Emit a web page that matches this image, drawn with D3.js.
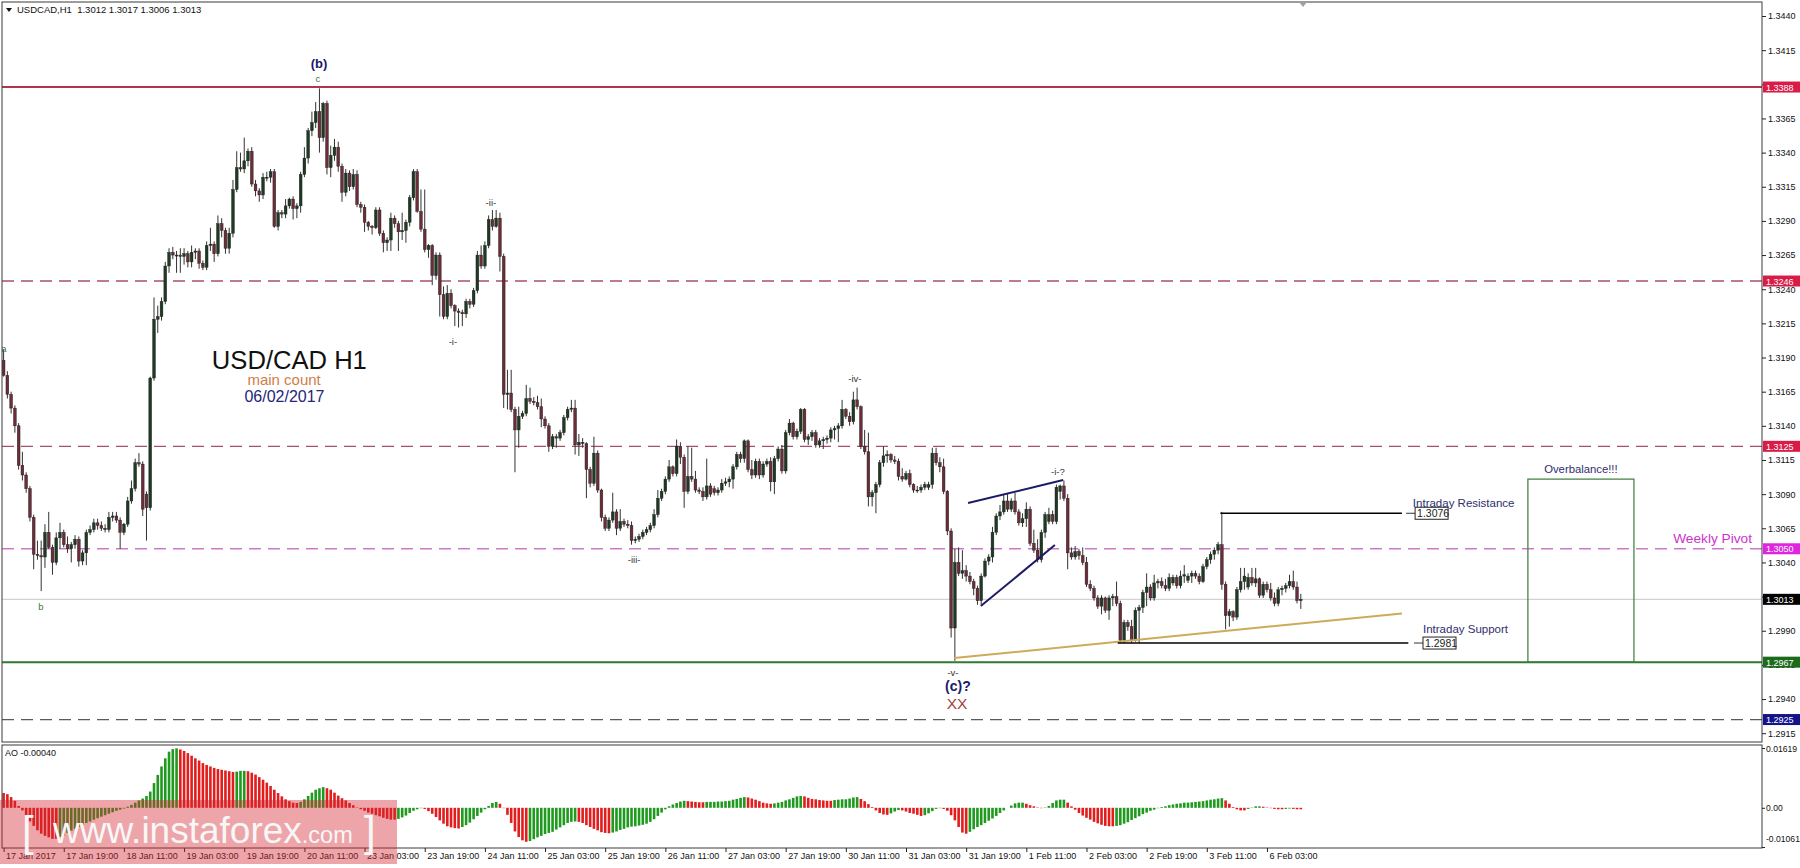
<!DOCTYPE html>
<html>
<head>
<meta charset="utf-8">
<script src="https://cdn.jsdelivr.net/npm/d3@7"></script>
<style>
body { margin: 0; background: #fff; }
svg { display: block; font-family: "Liberation Sans", Arial, sans-serif; }
</style>
</head>
<body>
<div id="chart"></div>
<script>
// ---------- DATA (prices in pips, 13188 = 1.3188) ----------
const opens = [
13188,13177,13163,13153,13140,13111,13104,13094,13073,13046,
13045,13044,13062,13051,13040,13058,13062,13053,13050,13053,
13057,13041,13047,13062,13064,13069,13067,13065,13064,13073,
13074,13071,13062,13068,13085,13094,13113,13112,13090,13080,
13175,13218,13220,13231,13257,13267,13265,13265,13264,13266,
13260,13267,13268,13259,13256,13272,13273,13266,13288,13283,
13270,13281,13313,13329,13328,13334,13341,13317,13312,13309,
13322,13322,13326,13286,13296,13295,13301,13306,13299,13301,
13324,13336,13356,13362,13370,13351,13376,13329,13338,13344,
13330,13311,13325,13315,13324,13302,13300,13289,13286,13285,
13298,13281,13274,13276,13292,13288,13282,13283,13289,13307,
13326,13297,13284,13269,13272,13250,13265,13236,13220,13237,
13228,13224,13223,13222,13231,13229,13239,13265,13257,13272,
13291,13286,13292,13264,13163,13164,13152,13137,13147,13149,
13160,13158,13157,13154,13145,13140,13125,13132,13131,13135,
13146,13152,13153,13126,13128,13127,13108,13098,13120,13093,
13073,13065,13071,13077,13065,13070,13068,13067,13056,13057,
13059,13062,13064,13067,13075,13087,13092,13101,13110,13105,
13125,13117,13092,13103,13101,13093,13092,13088,13096,13094,
13091,13093,13098,13099,13101,13110,13119,13116,13129,13108,
13104,13114,13104,13112,13114,13099,13116,13123,13107,13135,
13142,13132,13136,13152,13130,13132,13135,13126,13129,13130,
13131,13137,13138,13140,13152,13147,13143,13159,13154,13125,
13121,13088,13091,13097,13113,13118,13119,13115,13114,13103,
13101,13105,13097,13093,13093,13095,13095,13097,13120,13113,
13110,13092,13063,12992,13040,13032,13034,13030,13026,13021,
13012,13030,13041,13044,13062,13074,13077,13085,13079,13085,
13077,13069,13072,13079,13054,13049,13042,13062,13070,13075,
13070,13092,13096,13087,13047,13044,13048,13045,13040,13024,
13021,13014,13008,13014,13005,13014,13015,13010,12983,12996,
12993,12983,13005,13007,13018,13022,13014,13025,13026,13023,
13021,13025,13029,13023,13030,13027,13030,13032,13030,13026,
13037,13042,13046,13049,13053,13024,13001,13004,13000,13020,
13026,13022,13029,13025,13028,13016,13024,13020,13014,13010,
13020,13021,13023,13026,13022,13012
];
const highs = [
13196,13180,13165,13155,13142,13121,13106,13096,13075,13056,
13056,13068,13077,13053,13062,13069,13064,13059,13055,13060,
13059,13049,13064,13067,13072,13072,13070,13068,13077,13077,
13077,13073,13069,13088,13100,13116,13120,13114,13092,13176,
13234,13228,13234,13260,13270,13271,13268,13270,13270,13268,
13272,13270,13270,13261,13275,13285,13275,13294,13292,13285,
13285,13320,13341,13340,13351,13343,13344,13320,13314,13325,
13326,13328,13328,13298,13298,13306,13307,13308,13303,13326,
13344,13358,13370,13377,13387,13377,13378,13345,13350,13348,
13332,13328,13327,13328,13327,13304,13302,13290,13287,13300,
13300,13283,13278,13296,13294,13290,13296,13291,13309,13328,
13328,13313,13313,13273,13273,13267,13267,13242,13243,13240,
13229,13226,13225,13233,13233,13241,13268,13272,13275,13294,
13298,13298,13296,13266,13181,13181,13154,13154,13151,13170,
13168,13161,13162,13160,13147,13142,13134,13134,13137,13148,
13154,13159,13159,13134,13131,13128,13110,13132,13122,13094,
13075,13073,13091,13079,13079,13072,13071,13070,13059,13061,
13064,13066,13069,13079,13093,13094,13103,13115,13111,13130,
13128,13119,13125,13124,13107,13095,13095,13116,13098,13096,
13095,13101,13102,13103,13112,13121,13121,13130,13130,13115,
13116,13116,13114,13116,13117,13118,13125,13126,13137,13145,
13143,13138,13153,13153,13134,13137,13137,13131,13132,13133,
13139,13140,13142,13159,13153,13150,13165,13168,13155,13137,
13135,13093,13099,13115,13125,13122,13120,13118,13116,13109,
13107,13108,13098,13096,13097,13099,13099,13124,13124,13117,
13116,13093,13065,13050,13051,13049,13038,13033,13028,13023,
13032,13043,13046,13066,13076,13082,13090,13090,13087,13091,
13079,13076,13084,13081,13064,13057,13064,13077,13080,13078,
13097,13097,13100,13090,13051,13052,13050,13051,13044,13027,
13023,13016,13016,13015,13016,13017,13026,13012,12998,12998,
12998,13007,13009,13020,13032,13024,13031,13028,13029,13028,
13032,13031,13031,13034,13038,13032,13034,13034,13032,13039,
13044,13048,13051,13055,13077,13026,13006,13005,13022,13036,
13036,13032,13036,13036,13029,13026,13026,13025,13018,13022,
13023,13025,13031,13034,13026,13017
];
const lows = [
13176,13160,13149,13135,13108,13100,13091,13070,13035,13042,
13019,13036,13050,13031,13038,13050,13051,13047,13040,13050,
13037,13038,13038,13060,13062,13064,13063,13062,13062,13070,
13069,13050,13060,13066,13083,13092,13110,13074,13056,13078,
13173,13208,13217,13229,13252,13262,13252,13252,13258,13256,
13256,13262,13255,13254,13254,13268,13260,13264,13278,13266,
13266,13278,13311,13326,13325,13330,13315,13308,13304,13306,
13319,13318,13285,13283,13292,13292,13299,13291,13292,13296,
13322,13332,13352,13358,13340,13348,13324,13322,13334,13326,
13304,13308,13312,13313,13300,13296,13282,13283,13280,13284,
13279,13267,13268,13268,13285,13268,13276,13274,13286,13305,
13296,13282,13267,13263,13243,13247,13220,13218,13218,13226,
13213,13212,13213,13219,13226,13227,13237,13255,13255,13270,
13283,13285,13253,13153,13152,13150,13106,13124,13145,13147,
13156,13155,13152,13139,13138,13121,13123,13124,13129,13133,
13144,13150,13119,13118,13124,13087,13095,13096,13091,13070,
13063,13063,13069,13060,13063,13066,13065,13053,13054,13055,
13057,13060,13062,13065,13073,13085,13090,13099,13103,13103,
13112,13080,13090,13099,13091,13090,13085,13086,13088,13089,
13089,13091,13096,13095,13094,13108,13113,13113,13106,13101,
13102,13101,13102,13110,13092,13090,13114,13105,13105,13133,
13130,13130,13134,13128,13126,13129,13124,13124,13123,13127,
13128,13130,13128,13138,13145,13140,13141,13152,13123,13119,
13081,13081,13076,13095,13110,13113,13113,13112,13100,13099,
13100,13095,13091,13091,13091,13093,13093,13094,13111,13106,
13090,13060,12985,12968,13030,13028,13026,13024,13016,13009,
13009,13029,13038,13040,13060,13071,13075,13077,13077,13075,
13067,13066,13066,13052,13047,13040,13040,13058,13068,13068,
13068,13086,13085,13035,13042,13042,13042,13038,13022,13019,
13012,13006,13002,13003,12998,13008,13008,12981,12981,12990,
12981,12982,12981,13003,13008,13012,13012,13021,13021,13019,
13019,13023,13021,13021,13025,13025,13025,13028,13024,13025,
13035,13039,13042,13046,13020,12991,12993,12997,12998,13018,
13020,13020,13023,13022,13014,13014,13018,13012,13008,13008,
13016,13018,13021,13020,13010,13006
];
const closes = [
13177,13163,13153,13140,13111,13104,13094,13073,13046,13045,
13044,13062,13051,13040,13058,13062,13053,13050,13053,13057,
13041,13047,13062,13064,13069,13067,13065,13064,13073,13074,
13071,13062,13068,13085,13094,13113,13112,13079,13080,13175,
13218,13220,13231,13257,13267,13265,13265,13264,13266,13260,
13267,13268,13259,13256,13272,13273,13266,13288,13283,13270,
13281,13313,13329,13328,13334,13341,13317,13312,13309,13322,
13322,13326,13286,13296,13295,13301,13306,13299,13301,13324,
13336,13356,13362,13370,13351,13376,13329,13338,13344,13330,
13311,13325,13315,13324,13302,13300,13289,13286,13285,13298,
13281,13274,13276,13292,13288,13282,13283,13289,13307,13326,
13297,13284,13269,13272,13250,13265,13236,13220,13237,13228,
13224,13223,13222,13231,13229,13239,13265,13257,13272,13291,
13286,13292,13264,13163,13164,13152,13137,13147,13149,13160,
13158,13157,13154,13145,13140,13125,13132,13131,13135,13146,
13152,13153,13126,13128,13127,13108,13098,13120,13093,13073,
13065,13071,13077,13065,13070,13068,13067,13056,13057,13059,
13062,13064,13067,13075,13087,13092,13101,13110,13105,13125,
13117,13092,13103,13101,13093,13092,13088,13096,13090,13091,
13093,13098,13099,13101,13110,13119,13116,13129,13108,13104,
13114,13104,13112,13114,13099,13116,13123,13107,13135,13142,
13132,13136,13152,13130,13132,13135,13126,13129,13130,13131,
13137,13138,13140,13152,13147,13143,13159,13154,13125,13121,
13088,13091,13097,13113,13118,13119,13115,13114,13103,13101,
13105,13097,13093,13093,13095,13097,13097,13120,13113,13110,
13092,13063,12992,13040,13032,13034,13030,13026,13021,13012,
13030,13041,13044,13062,13074,13077,13085,13079,13085,13077,
13069,13072,13079,13054,13049,13042,13062,13075,13075,13070,
13095,13096,13087,13047,13044,13048,13045,13040,13024,13021,
13014,13008,13014,13005,13014,13015,13010,12983,12996,12993,
12983,13005,13007,13018,13022,13014,13025,13026,13023,13021,
13029,13029,13023,13030,13031,13030,13032,13030,13026,13037,
13042,13046,13049,13053,13024,13001,13004,13000,13020,13026,
13030,13029,13025,13028,13016,13024,13020,13014,13010,13020,
13021,13023,13026,13022,13012,13013
];
// Awesome Oscillator, in pips (x 0.0001)
const aoValues = [
40,37,29,19,5,-7,-22,-37,-49,-61,
-70,-76,-80,-84,-84,-79,-75,-68,-62,-57,
-52,-47,-41,-37,-32,-28,-24,-20,-16,-12,
-8,-5,-2,3,8,14,20,25,32,44,
67,89,112,134,152,159,161,158,154,148,
141,134,128,121,116,112,108,105,103,101,
99,97,98,100,100,99,95,90,83,76,
68,59,49,40,31,23,18,14,13,16,
23,32,41,49,53,56,53,49,41,33,
26,20,13,7,1,-4,-8,-13,-16,-20,
-23,-27,-30,-32,-32,-30,-26,-21,-14,-8,
-4,-1,-3,-9,-16,-25,-34,-43,-50,-53,
-55,-56,-52,-47,-40,-31,-22,-13,-4,5,
13,16,11,-1,-19,-41,-64,-79,-88,-92,
-90,-85,-80,-76,-71,-68,-65,-59,-53,-47,
-41,-38,-37,-38,-41,-47,-52,-57,-61,-66,
-68,-69,-67,-64,-60,-57,-53,-51,-50,-48,
-46,-43,-38,-31,-22,-13,-4,4,9,13,
17,19,18,17,16,15,15,16,16,16,
17,17,18,19,22,24,27,29,28,25,
22,18,14,12,11,12,14,16,20,23,
27,31,32,31,27,24,23,21,20,19,
19,21,22,23,23,25,28,29,24,18,
10,2,-7,-14,-18,-19,-15,-10,-6,-7,
-10,-14,-16,-19,-22,-20,-15,-9,-3,-1,
-3,-8,-20,-34,-52,-67,-70,-65,-58,-52,
-47,-41,-35,-29,-22,-14,-7,0,6,12,
14,14,11,7,4,1,-1,1,5,13,
20,22,22,14,4,-5,-14,-21,-27,-32,
-38,-42,-46,-49,-50,-50,-49,-47,-43,-39,
-33,-28,-23,-17,-13,-8,-5,-1,2,4,
7,9,11,12,14,14,15,16,17,18,
20,22,23,25,26,20,11,2,-4,-7,
-7,-3,1,4,4,3,1,-1,-3,-4,
-4,-3,-2,-3,-4,-4
];

const priceTicks = [1.2915,1.2940,1.2965,1.2990,1.3015,1.3040,1.3065,1.3090,1.3115,1.3140,1.3165,
  1.3190,1.3215,1.3240,1.3265,1.3290,1.3315,1.3340,1.3365,1.3390,1.3415,1.3440];
const timeTickBars = [0,16,32,48,64,80,96,112,128,144,160,176,192,208,224,240,256,272,288,304,320,336];
const timeLabels = ["17 Jan 2017","17 Jan 19:00","18 Jan 11:00","19 Jan 03:00","19 Jan 19:00","20 Jan 11:00",
  "23 Jan 03:00","23 Jan 19:00","24 Jan 11:00","25 Jan 03:00","25 Jan 19:00","26 Jan 11:00",
  "27 Jan 03:00","27 Jan 19:00","30 Jan 11:00","31 Jan 03:00","31 Jan 19:00","1 Feb 11:00",
  "2 Feb 03:00","2 Feb 19:00","3 Feb 11:00","6 Feb 03:00"];
const aoTicks = [0.01619, 0, -0.01061];
const aoTickLabels = ["0.01619", "0.00", "-0.01061"];

// horizontal levels
const levelPrices = [1.3388, 1.3246, 1.3125, 1.3050, 1.3013, 1.2967, 1.2925];

// wave labels (bar index, price)
const noteText  = ["(b)", "c", "a", "b", "-ii-", "-i-", "-iii-", "-iv-", "-v-", "(c)?", "XX", "-i-?"];
const noteBar   = [83.9, 83.6, -0.6, 9.95, 129.6, 119.5, 167.7, 226.4, 252.5, 253.8, 253.6, 280.4];
const notePrice = [1.34019, 1.33917, 1.31940, 1.30052, 1.33009, 1.31992, 1.30396, 1.31721, 1.29568, 1.29459, 1.29327, 1.31040];

// trend lines [bar, price] pairs
const wedgeUpper = [[256.5, 1.30835], [281.8, 1.31003]];
const wedgeLower = [[259.9, 1.30081], [279.6, 1.30527]];
const goldLine = [[252.8, 1.2970], [371.9, 1.30027]];
const resistance = {price: 1.3076, from: 323.6, to: 371.9};
const support = {price: 1.2981, from: 296.3, to: 373.6};
const overbalance = {x0: 405.4, x1: 433.6, p0: 1.2967, p1: 1.3101};

// ---------- CHART ----------
const W = 1800, H = 868;
const left = 2, right = 1762, mainTop = 2, mainBot = 742, aoTop = 745, aoBot = 848;

const svg = d3.select("#chart").append("svg").attr("width", W).attr("height", H);
svg.append("rect").attr("width", W).attr("height", H).attr("fill", "#fff");

const x = d3.scaleLinear().domain([0, 345]).range([3.6, 1300.8]);
const y = d3.scaleLinear().domain([1.2915, 1.3440]).range([733.2, 16]);
const yAO = d3.scaleLinear().domain([-0.01061, 0.01619]).range([847, 748]);

const defs = svg.append("defs");
defs.append("clipPath").attr("id", "clipMain").append("rect")
	.attr("x", left).attr("y", mainTop).attr("width", right - left).attr("height", mainBot - mainTop);
defs.append("clipPath").attr("id", "clipAO").append("rect")
	.attr("x", left).attr("y", aoTop).attr("width", right - left).attr("height", aoBot - aoTop);

const main = svg.append("g").attr("clip-path", "url(#clipMain)");

// levels
const levelLook = [
	{ stroke: "#b2334f", w: 2, dash: null, tag: "#d91c47" },
	{ stroke: "#a5506c", w: 1.3, dash: "12,7", tag: "#d91c47" },
	{ stroke: "#a5506c", w: 1.3, dash: "12,7", tag: "#d91c47" },
	{ stroke: "#c97ac9", w: 1.5, dash: "12,7", tag: "#e025e0" },
	{ stroke: "#c8c8c8", w: 1, dash: null, tag: "#000000" },
	{ stroke: "#2f7a2f", w: 2, dash: null, tag: "#1c6b1c" },
	{ stroke: "#5a5a5a", w: 1.3, dash: "12,7", tag: "#14148a" },
];
main.selectAll(".level").data(levelPrices).join("line")
	.attr("x1", left).attr("x2", right)
	.attr("y1", d => y(d)).attr("y2", d => y(d))
	.attr("stroke", (d, i) => levelLook[i].stroke)
	.attr("stroke-width", (d, i) => levelLook[i].w)
	.attr("stroke-dasharray", (d, i) => levelLook[i].dash);

// candles
const bars = closes.map((c, i) => ({
	i, o: opens[i] / 1e4, h: highs[i] / 1e4, l: lows[i] / 1e4, c: c / 1e4
}));
const candles = main.append("g");
candles.selectAll("line").data(bars).join("line")
	.attr("x1", d => x(d.i)).attr("x2", d => x(d.i))
	.attr("y1", d => y(d.h)).attr("y2", d => y(d.l))
	.attr("stroke", "#333").attr("stroke-width", 1);
candles.selectAll("rect").data(bars).join("rect")
	.attr("x", d => x(d.i) - 1.4).attr("width", 2.8)
	.attr("y", d => y(Math.max(d.o, d.c)))
	.attr("height", d => Math.max(1, Math.abs(y(d.o) - y(d.c))))
	.attr("fill", d => d.c >= d.o ? "#1e3a22" : "#6b2d39")
	.attr("stroke", "#1a1a1a").attr("stroke-width", 0.4);

// trend lines
const line = d3.line().x(d => x(d[0])).y(d => y(d[1]));
main.append("path").attr("d", line(goldLine)).attr("stroke", "#cdab58").attr("stroke-width", 2).attr("fill", "none");
main.append("path").attr("d", line(wedgeUpper)).attr("stroke", "#1c1c66").attr("stroke-width", 2).attr("fill", "none");
main.append("path").attr("d", line(wedgeLower)).attr("stroke", "#1c1c66").attr("stroke-width", 2).attr("fill", "none");

// intraday resistance / support
[resistance, support].forEach(s => {
	main.append("line")
		.attr("x1", x(s.from)).attr("x2", x(s.to))
		.attr("y1", y(s.price)).attr("y2", y(s.price))
		.attr("stroke", "#000").attr("stroke-width", 1.6);
});
function priceBox(barAt, price, txt) {
	const bx = x(barAt), by = y(price);
	main.append("line").attr("x1", bx - 9).attr("x2", bx).attr("y1", by).attr("y2", by)
		.attr("stroke", "#333").attr("stroke-width", 1);
	main.append("rect").attr("x", bx).attr("y", by - 6).attr("width", 33).attr("height", 12)
		.attr("fill", "#fff").attr("stroke", "#222").attr("stroke-width", 1);
	main.append("text").attr("x", bx + 2).attr("y", by + 4).text(txt)
		.attr("font-size", 10.5).attr("fill", "#222");
}
priceBox(375.4, resistance.price, "1.3076");
priceBox(377.5, support.price, "1.2981");

main.append("text").attr("x", x(374.8)).attr("y", y(1.30806)).text("Intraday Resistance")
	.attr("font-size", 11.5).attr("fill", "#2e2e6e");
main.append("text").attr("x", x(377.5)).attr("y", y(1.29883)).text("Intraday Support")
	.attr("font-size", 11.5).attr("fill", "#2e2e6e");

// overbalance box
main.append("rect")
	.attr("x", x(overbalance.x0)).attr("y", y(overbalance.p1))
	.attr("width", x(overbalance.x1) - x(overbalance.x0))
	.attr("height", y(overbalance.p0) - y(overbalance.p1))
	.attr("fill", "none").attr("stroke", "#3b7a3b").attr("stroke-width", 1.2);
main.append("text").attr("x", x(419.5)).attr("y", y(1.31054)).text("Overbalance!!!")
	.attr("text-anchor", "middle").attr("font-size", 11.3).attr("fill", "#2e2e6e");

main.append("text").attr("x", x(465)).attr("y", y(1.30542)).text("Weekly Pivot")
	.attr("text-anchor", "end").attr("font-size", 13.7).attr("fill", "#cc33cc");

// title block
main.append("text").attr("x", x(76.0)).attr("y", y(1.31816)).text("USD/CAD H1")
	.attr("text-anchor", "middle").attr("font-size", 25.6).attr("fill", "#111");
main.append("text").attr("x", x(74.6)).attr("y", y(1.31702)).text("main count")
	.attr("text-anchor", "middle").attr("font-size", 15).attr("fill", "#cf7e48");
main.append("text").attr("x", x(74.7)).attr("y", y(1.31574)).text("06/02/2017")
	.attr("text-anchor", "middle").attr("font-size", 16).attr("fill", "#25257a");

// wave labels
const noteLook = {
	"(b)": { size: 13, weight: "bold", fill: "#1a1a6a" },
	"(c)?": { size: 14, weight: "bold", fill: "#1a1a6a" },
	"XX": { size: 15.5, weight: "normal", fill: "#a2433a" },
	"a": { size: 9.5, weight: "normal", fill: "#3a7a3a" },
	"b": { size: 9.5, weight: "normal", fill: "#3a7a3a" },
	"c": { size: 9.5, weight: "normal", fill: "#3a7a3a" },
};
main.selectAll(".note").data(noteText).join("text")
	.attr("x", (d, i) => x(noteBar[i]))
	.attr("y", (d, i) => y(notePrice[i]))
	.attr("text-anchor", d => d === "a" ? "start" : "middle")
	.attr("font-size", d => (noteLook[d] || { size: 9.5 }).size)
	.attr("font-weight", d => (noteLook[d] || { weight: "normal" }).weight)
	.attr("fill", d => (noteLook[d] || { fill: "#333" }).fill)
	.text(d => d);

// ---------- AO ----------
const aoG = svg.append("g").attr("clip-path", "url(#clipAO)");
let rising = false;
const aoBars = aoValues.map((v, i) => {
	if (i > 0) {
		if (v > aoValues[i - 1]) rising = true;
		else if (v < aoValues[i - 1]) rising = false;
	}
	return { i, v: v / 1e4, up: rising };
});
aoG.selectAll("rect").data(aoBars).join("rect")
	.attr("x", d => x(d.i) - 1.3).attr("width", 2.6)
	.attr("y", d => Math.min(yAO(d.v), yAO(0)))
	.attr("height", d => Math.abs(yAO(d.v) - yAO(0)))
	.attr("fill", d => d.up ? "#1f9a1f" : "#e11d1d");
svg.append("text").attr("x", 5).attr("y", 756).text("AO -0.00040")
	.attr("font-size", 9).attr("fill", "#111");

// ---------- FRAMES & AXES ----------
svg.append("rect").attr("x", left).attr("y", mainTop).attr("width", right - left).attr("height", mainBot - mainTop)
	.attr("fill", "none").attr("stroke", "#3a3a3a").attr("stroke-width", 1);
svg.append("rect").attr("x", left).attr("y", aoTop).attr("width", right - left).attr("height", aoBot - aoTop)
	.attr("fill", "none").attr("stroke", "#3a3a3a").attr("stroke-width", 1);

const yAxis = svg.append("g").attr("transform", `translate(${right},0)`)
	.call(d3.axisRight(y).tickValues(priceTicks).tickFormat(d3.format(".4f")).tickSize(4).tickPadding(2));
const aoAxis = svg.append("g").attr("transform", `translate(${right},0)`)
	.call(d3.axisRight(yAO).tickValues(aoTicks).tickFormat((d, i) => aoTickLabels[i]).tickSize(3).tickPadding(1));
aoAxis.selectAll(".tick text").attr("y", (d, i) => i === 2 ? -8 : (i === 0 ? 1 : 0));
const xAxis = svg.append("g").attr("transform", `translate(0,${aoBot})`)
	.call(d3.axisBottom(x).tickValues(timeTickBars).tickFormat((d, i) => timeLabels[i]).tickSize(4));
xAxis.selectAll(".tick text").attr("text-anchor", "start").attr("x", 2).attr("y", 5);

[yAxis, aoAxis, xAxis].forEach(g => {
	g.attr("font-family", null).attr("font-size", null);
	g.select(".domain").remove();
	g.selectAll(".tick line").attr("stroke", "#222");
	g.selectAll(".tick text").attr("font-size", 9).attr("fill", "#111");
});
aoAxis.selectAll(".tick text").attr("font-size", 8.6);

// price tags on the right scale
const tags = svg.append("g");
levelPrices.forEach((p, i) => {
	tags.append("rect").attr("x", right + 1).attr("y", y(p) - 5.5).attr("width", 37).attr("height", 11)
		.attr("fill", levelLook[i].tag);
	tags.append("text").attr("x", right + 4).attr("y", y(p) + 3.5).text(d3.format(".4f")(p))
		.attr("font-size", 9).attr("fill", "#fff");
});

// header
svg.append("path").attr("d", "M6,8 L12,8 L9,12 Z").attr("fill", "#111");
svg.append("text").attr("x", 17).attr("y", 13).text("USDCAD,H1  1.3012 1.3017 1.3006 1.3013")
	.attr("font-size", 9.5).attr("fill", "#111").attr("xml:space", "preserve");
// chart shift marker
svg.append("path").attr("d", `M${x(345.6) - 4},2 L${x(345.6) + 4},2 L${x(345.6)},7 Z`).attr("fill", "#a0a0a0");

// ---------- WATERMARK ----------
const wm = svg.append("g");
wm.append("rect").attr("x", 0).attr("y", 800).attr("width", 397).attr("height", 64)
	.attr("fill", "rgba(214,40,50,0.42)");
wm.append("text").attr("x", 22).attr("y", 846).text("[").attr("font-size", 42)
	.attr("font-weight", 300).attr("fill", "#f7f7f7");
wm.append("text").attr("x", 53).attr("y", 843).attr("fill", "#f7f7f7")
	.call(t => {
		t.append("tspan").attr("font-size", 37).text("www.instaforex");
		t.append("tspan").attr("font-size", 23.5).text(".com");
	});
wm.append("text").attr("x", 364).attr("y", 846).text("]").attr("font-size", 42)
	.attr("font-weight", 300).attr("fill", "#f7f7f7");
</script>
</body>
</html>
